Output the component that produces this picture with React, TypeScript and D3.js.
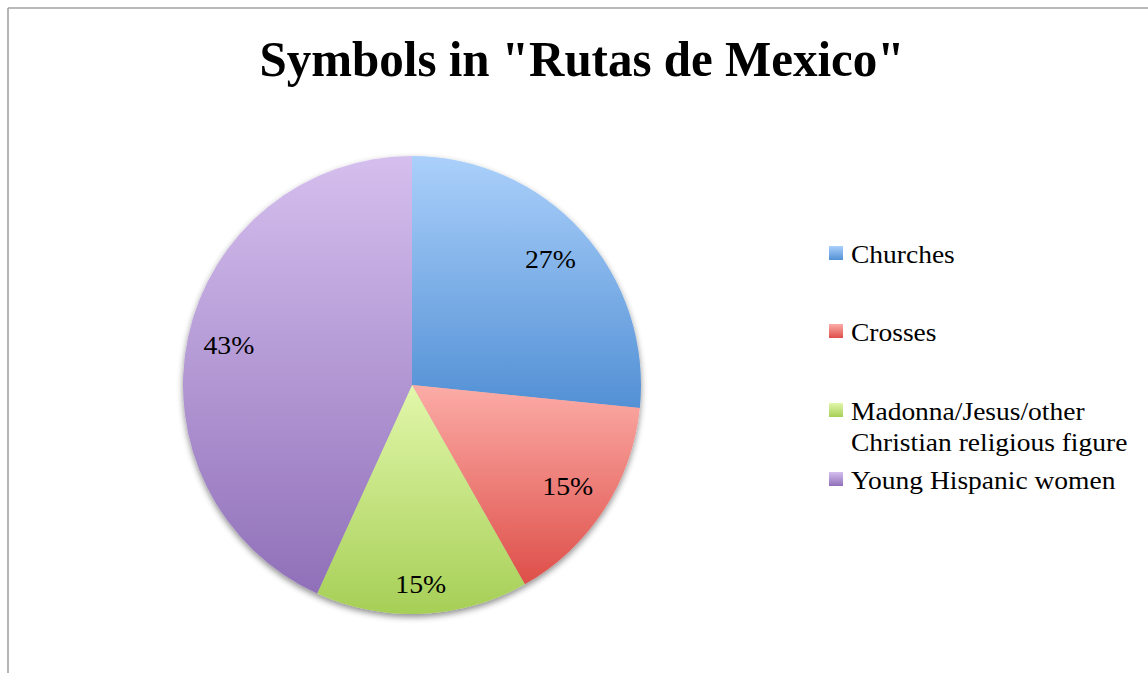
import React from "react";
import * as d3 from "d3";

const TITLE = 'Symbols in "Rutas de Mexico"';
const categories = ["Churches", "Crosses", "Madonna/Jesus/other Christian religious figure", "Young Hispanic women"];
const legendLines = [["Churches"], ["Crosses"], ["Madonna/Jesus/other", "Christian religious figure"], ["Young Hispanic women"]];
const values = [26.6, 15.2, 15.0, 43.2];
const colorsTop = ["#abd0fb", "#fcaca7", "#e2f7ab", "#d5bfee"];
const colorsBottom = ["#5290d5", "#de4f49", "#a6cf56", "#9070b9"];

export default function App() {
  const W = 1148, H = 673;
  const cx = 412, cy = 385, r = 229;
  const pie = d3.pie<number>().sort(null).value((d) => d);
  const arcs = pie(values);
  const arc = d3.arc<d3.PieArcDatum<number>>().innerRadius(0).outerRadius(r);
  const total = d3.sum(values);
  const fmt = (v: number) => `${Math.round((v / total) * 100)}%`;

  // label boxes placed with their outer edge at a fixed radius
  const labelOuter = r * 0.943;
  const boxHalfW = 26, boxHalfH = 15;
  const labelFont = 26;

  const legendBaselines = [263, 341, 420, 489];
  const lineGap = 31;

  return (
    <svg width={W} height={H} style={{ position: "absolute", left: 0, top: 0, display: "block" }}>
      <defs>
        {categories.map((c, i) => (
          <linearGradient key={c} id={`g${i}`} x1="0" y1="0" x2="0" y2="1">
            <stop offset="0%" stopColor={colorsTop[i]} />
            <stop offset="100%" stopColor={colorsBottom[i]} />
          </linearGradient>
        ))}
        <filter id="shadow" x="-20%" y="-20%" width="140%" height="140%">
          <feDropShadow dx="0" dy="3" stdDeviation="3" floodColor="#000" floodOpacity="0.45" />
        </filter>
      </defs>
      <rect x={0} y={0} width={W} height={H} fill="#fff" />
      <line x1={8} y1={8} x2={W} y2={8} stroke="#a3a3a3" strokeWidth={1.6} />
      <line x1={8} y1={8} x2={8} y2={H} stroke="#a3a3a3" strokeWidth={1.6} />
      <text x={582} y={76} textAnchor="middle" fontFamily="'Liberation Serif', serif" fontWeight="bold" fontSize={51} textLength={645} lengthAdjust="spacingAndGlyphs" fill="#000">
        {TITLE}
      </text>
      <g transform={`translate(${cx},${cy})`}>
        <g filter="url(#shadow)">
          {arcs.map((a, i) => (
            <path key={i} d={arc(a) || ""} fill={`url(#g${i})`} />
          ))}
        </g>
        {arcs.map((a, i) => {
          const ang = (a.startAngle + a.endAngle) / 2;
          const s = Math.sin(ang), c = -Math.cos(ang);
          const rad = labelOuter - (boxHalfW * Math.abs(s) + boxHalfH * Math.abs(c));
          const x = s * rad, y = c * rad;
          return (
            <text key={i} x={x} y={y + labelFont * 0.33} textAnchor="middle" fontFamily="'Liberation Serif', serif" fontSize={labelFont} textLength={51} lengthAdjust="spacingAndGlyphs" fill="#000">
              {fmt(a.data)}
            </text>
          );
        })}
      </g>
      {categories.map((c, i) => (
        <g key={c}>
          <rect x={829} y={legendBaselines[i] - 17} width={14} height={14} fill={`url(#g${i})`} />
          {legendLines[i].map((ln, j) => (
            <text key={j} transform={`translate(851,${legendBaselines[i] + j * lineGap}) scale(1.1,1)`} fontFamily="'Liberation Serif', serif" fontSize={25} fill="#000">
              {ln}
            </text>
          ))}
        </g>
      ))}
    </svg>
  );
}
